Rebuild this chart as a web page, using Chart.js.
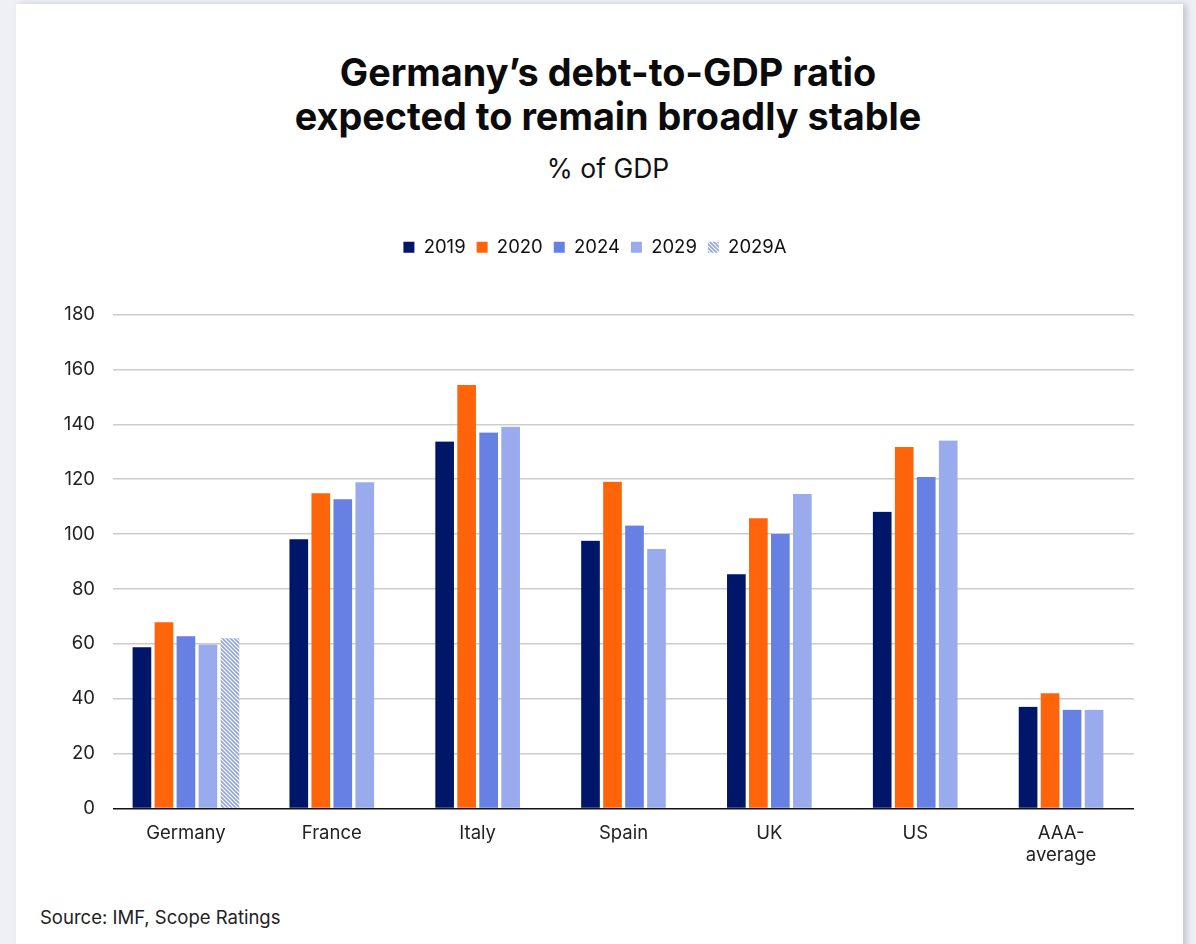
<!DOCTYPE html>
<html>
<head>
<meta charset="utf-8">
<title>Germany debt-to-GDP</title>
<script src="https://cdn.jsdelivr.net/npm/chart.js@4/dist/chart.umd.min.js"></script>
<style>
    html, body {
        margin: 0;
        padding: 0;
        background: #eef0f5;
        font-family: Inter, "Noto Sans", sans-serif;
    }
    #card {
        position: absolute;
        left: 16px;
        top: 4px;
        width: 1167px;
        height: 960px;
        background: #ffffff;
        box-shadow: 4px 0 6px rgba(120, 130, 150, 0.35);
    }
    #title {
        position: absolute;
        left: 0;
        top: 46px;
        width: 1184px;
        text-align: center;
        font-size: 37.8px;
        font-weight: 700;
        line-height: 44px;
        color: #0b0b0b;
    }
    #subtitle {
        position: absolute;
        left: 0;
        top: 148px;
        width: 1184px;
        text-align: center;
        font-size: 26.5px;
        line-height: 32px;
        color: #111111;
    }
    #chart-box {
        position: absolute;
        left: 0;
        top: 0;
        width: 1167px;
        height: 889px;
    }
    #source {
        position: absolute;
        left: 24px;
        top: 902px;
        font-size: 18.5px;
        color: #222222;
    }
</style>
</head>
<body>
<div id="card">
    <div id="title">Germany’s debt-to-GDP ratio<br>expected to remain broadly stable</div>
    <div id="subtitle">% of GDP</div>
    <div id="chart-box"><canvas id="chart-container"></canvas></div>
    <div id="source">Source: IMF, Scope Ratings</div>
</div>

<script>
const countries = ["Germany", "France", "Italy", "Spain", "UK", "US", ["AAA-", "average"]];
const years = ["2019", "2020", "2024", "2029", "2029A"];

const debt2019 = [58.8, 98.1, 133.7, 97.6, 85.4, 108.1, 37.1];
const debt2020 = [67.9, 114.9, 154.3, 119.1, 105.8, 131.7, 42.0];
const debt2024 = [62.8, 112.7, 137.0, 103.1, 100.0, 120.8, 36.0];
const debt2029 = [59.8, 118.9, 139.1, 94.6, 114.6, 134.1, 36.0];
const debt2029A = [62.1, null, null, null, null, null, null];

const yTicks = { min: 0, max: 180, step: 20 };

const seriesColors = ["#001669", "#ff640b", "#6680e3", "#99abed"];

// diagonal hatch used for the adjusted 2029 bar
function makeHatch(color) {
    const tile = document.createElement("canvas");
    tile.width = 4;
    tile.height = 4;
    const c = tile.getContext("2d");
    c.fillStyle = "#ffffff";
    c.fillRect(0, 0, 4, 4);
    c.strokeStyle = color;
    c.lineWidth = 1.6;
    c.beginPath();
    c.moveTo(-1, -1);
    c.lineTo(5, 5);
    c.moveTo(-1, 3);
    c.lineTo(1, 5);
    c.moveTo(3, -1);
    c.lineTo(5, 1);
    c.stroke();
    return document.createElement("canvas").getContext("2d").createPattern(tile, "repeat");
}

// extra space under the legend
const legendGap = {
    id: "legendGap",
    beforeInit(chart) {
        const fit = chart.legend.fit;
        chart.legend.fit = function () {
            fit.bind(chart.legend)();
            this.height += 48;
        };
    }
};

function barSet(label, data, color) {
    return {
        label: label,
        data: data,
        backgroundColor: color,
        borderColor: "rgba(0,0,0,0)",
        borderWidth: { left: 2, right: 2, top: 0, bottom: 0 },
        borderSkipped: false
    };
}

document.addEventListener("DOMContentLoaded", function () {
    const ctx = document.getElementById("chart-container").getContext("2d");

    new Chart(ctx, {
        type: "bar",
        data: {
            labels: countries,
            datasets: [
                barSet(years[0], debt2019, seriesColors[0]),
                barSet(years[1], debt2020, seriesColors[1]),
                barSet(years[2], debt2024, seriesColors[2]),
                barSet(years[3], debt2029, seriesColors[3]),
                barSet(years[4], debt2029A, makeHatch("#8fa3ec"))
            ]
        },
        plugins: [legendGap],
        options: {
            responsive: true,
            maintainAspectRatio: false,
            animation: false,
            skipNull: true,
            barThickness: 22,
            layout: {
                padding: { top: 223, left: 40, right: 49, bottom: 20 }
            },
            plugins: {
                legend: {
                    display: true,
                    position: "top",
                    labels: {
                        color: "#111111",
                        font: { family: "Inter", size: 18.5 },
                        boxWidth: 11,
                        boxHeight: 11,
                        padding: 11
                    }
                },
                tooltip: { enabled: false }
            },
            scales: {
                x: {
                    grid: { display: false },
                    border: { display: false },
                    ticks: {
                        color: "#222222",
                        font: { family: "Inter", size: 18.5 },
                        padding: 6,
                        maxRotation: 0
                    }
                },
                y: {
                    min: yTicks.min,
                    max: yTicks.max,
                    border: { display: false },
                    grid: {
                        color: (c) => (c.tick && c.tick.value === 0 ? "#111111" : "#cccccc"),
                        lineWidth: (c) => (c.tick && c.tick.value === 0 ? 1.6 : 1.5),
                        drawTicks: false
                    },
                    ticks: {
                        stepSize: yTicks.step,
                        color: "#222222",
                        font: { family: "Inter", size: 18.5 },
                        padding: 18
                    },
                    afterFit(scale) {
                        scale.width = 57;
                    }
                }
            }
        }
    });
});
</script>
</body>
</html>
